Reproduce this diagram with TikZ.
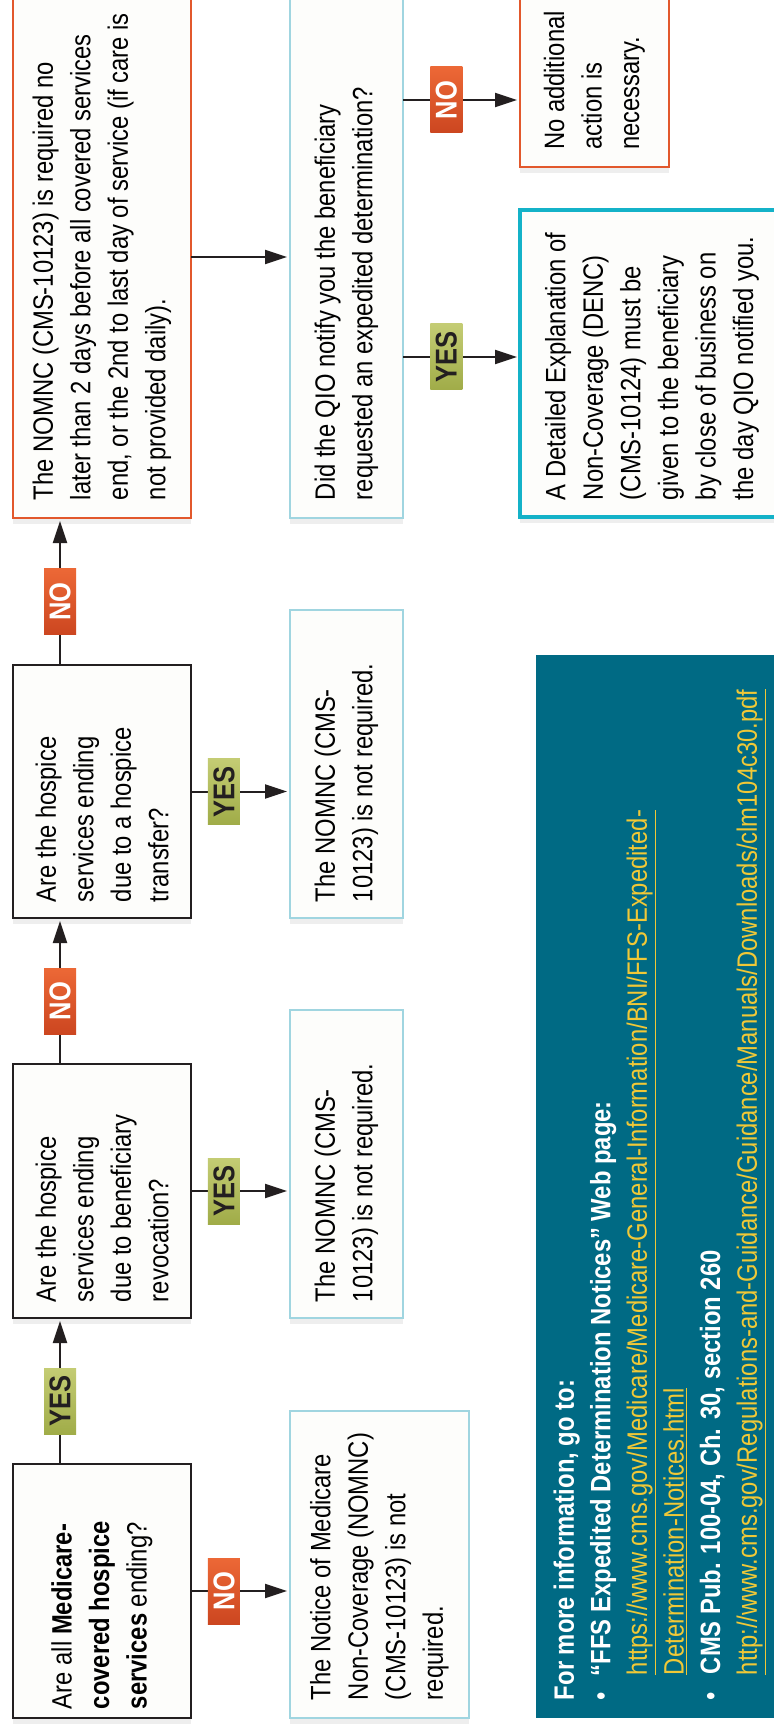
\documentclass[tikz,border=0pt]{standalone}
\usepackage{fontspec}
\setmainfont{Liberation Sans}[FakeStretch=0.85]
\usetikzlibrary{arrows.meta,shadows}
\definecolor{bord}{RGB}{35,31,32}
\definecolor{orng}{RGB}{226,88,44}
\definecolor{lblue}{RGB}{160,213,224}
\definecolor{cyanb}{RGB}{20,178,200}
\definecolor{infoteal}{RGB}{0,106,132}
\definecolor{lnkc}{RGB}{240,200,55}
\definecolor{yesA}{RGB}{196,204,116}
\definecolor{yesB}{RGB}{160,172,72}
\definecolor{noA}{RGB}{236,104,54}
\definecolor{noB}{RGB}{204,70,32}
\definecolor{boxfill}{RGB}{253,253,251}
\hyphenpenalty=10000
\exhyphenpenalty=10000
\newcommand{\lnk}[1]{\textcolor{lnkc}{\underline{#1}}}
\tikzset{
  boxbase/.style={rotate=90, fill=boxfill, align=flush left, inner sep=0pt, outer sep=0pt,
    font=\fontsize{14pt}{18.75pt}\selectfont,
    drop shadow={shadow xshift=0pt, shadow yshift=-3pt, opacity=0.13}},
  qbox/.style={boxbase, draw=bord, line width=1.3pt},
  rbox/.style={boxbase, draw=lblue, line width=1pt},
  obox/.style={boxbase, draw=orng, line width=1.4pt},
  cbox/.style={boxbase, draw=cyanb, line width=1.6pt},
  conn/.style={line width=1pt, draw=bord, -{Triangle[length=11pt,width=7pt]}, shorten >=1.5pt},
  labbase/.style={rotate=90, minimum width=33pt, minimum height=16pt, inner sep=0pt,
    font=\fontsize{15pt}{15pt}\selectfont\bfseries},
  yeslab/.style={labbase, top color=yesA, bottom color=yesB, text=bord},
  nolab/.style={labbase, top color=noA, bottom color=noB, text=white},
  infobox/.style={rotate=90, fill=infoteal, align=flush left, inner sep=0pt, text=white,
    font=\fontsize{14pt}{18.3pt}\selectfont}
}
\begin{document}
\begin{tikzpicture}[x=0.5pt,y=-0.5pt]
\useasboundingbox (0,0) rectangle (774,1727);
\clip (0,0) rectangle (774,1727);
\fill[white] (0,0) rectangle (774,1727);

% decision column
\node[qbox, minimum width=127pt, minimum height=89pt, text width=118pt] (b1) at (102,1591)
  {Are all \textbf{Medicare-}\\\textbf{covered hospice}\\\textbf{services} ending?};
\node[qbox, minimum width=127pt, minimum height=89pt, text width=111pt] (b3) at (102,1191)
  {Are the hospice\\services ending\\due to beneficiary\\revocation?};
\node[qbox, minimum width=126.5pt, minimum height=89pt, text width=110.5pt] (b5) at (102,791.5)
  {Are the hospice\\services ending\\due to a hospice\\transfer?};
\node[obox, minimum width=289pt, minimum height=89pt, text width=271pt] (b7) at (102,229)
  {The NOMNC (CMS-10123) is required no\\later than 2 days before all covered services\\end, or the 2nd to last day of service (if care is\\not provided daily).};

% result column
\node[rbox, minimum width=153.5pt, minimum height=89.5pt, text width=135.5pt] (b2) at (379.5,1564.5)
  {The Notice of Medicare\\Non-Coverage (NOMNC)\\(CMS-10123) is not\\required.};
\node[rbox, minimum width=154pt, minimum height=56.5pt, text width=138pt] (b4) at (346.5,1164)
  {The NOMNC (CMS-\\10123) is not required.};
\node[rbox, minimum width=154pt, minimum height=56.5pt, text width=138pt] (b6) at (346.5,764)
  {The NOMNC (CMS-\\10123) is not required.};
\node[rbox, minimum width=289pt, minimum height=56.5pt, text width=271pt] (q) at (346.5,229)
  {Did the QIO notify you the beneficiary\\requested an expedited determination?};

% right column
\node[obox, minimum width=98.5pt, minimum height=74.5pt, text width=81.5pt] (na) at (594.5,68.5)
  {No additional\\action is\\necessary.};
\node[cbox, minimum width=153.5pt, minimum height=132pt, text width=136.5pt] (d) at (652,363.5)
  {A Detailed Explanation of\\Non-Coverage (DENC)\\(CMS-10124) must be\\given to the beneficiary\\by close of business on\\the day QIO notified you.};

\node[infobox, minimum width=531.5pt, minimum height=124pt, text width=513.5pt] (info) at (660,1186.5)
  {\textbf{For more information, go to:}\\
   \makebox[12pt][l]{\textbullet}\textbf{“FFS Expedited Determination Notices” Web page:}\\
   \hspace*{12.5pt}\lnk{https://www.cms.gov/Medicare/Medicare-General-Information/BNI/FFS-Expedited-}\\
   \hspace*{12.5pt}\lnk{Determination-Notices.html}\\
   \makebox[13pt][l]{\textbullet}\textbf{CMS Pub. 100-04, Ch. 30, section 260}\\
   \hspace*{12.5pt}\lnk{http://www.cms.gov/Regulations-and-Guidance/Guidance/Manuals/Downloads/clm104c30.pdf}};

\coordinate (col) at (60,0);
\coordinate (yq) at (0,257);
\coordinate (yna) at (0,100);
\coordinate (yd) at (0,357);

\draw[conn] (b1.south) -- (b1.south -| b2.north) node[pos=0.333, nolab] {NO};
\draw[conn] (col |- b1.east) -- (col |- b3.west) node[pos=0.43, yeslab] {YES};
\draw[conn] (b3.south) -- (b3.south -| b4.north) node[pos=0.333, yeslab] {YES};
\draw[conn] (col |- b3.east) -- (col |- b5.west) node[pos=0.43, nolab] {NO};
\draw[conn] (b5.south) -- (b5.south -| b6.north) node[pos=0.333, yeslab] {YES};
\draw[conn] (col |- b5.east) -- (col |- b7.west) node[pos=0.43, nolab] {NO};
\draw[conn] (b7.south |- yq) -- (q.north |- yq);
\draw[conn] (q.south |- yna) -- (na.north |- yna) node[pos=0.37, nolab] {NO};
\draw[conn] (q.south |- yd) -- (d.north |- yd) node[pos=0.37, yeslab] {YES};
\end{tikzpicture}
\end{document}
